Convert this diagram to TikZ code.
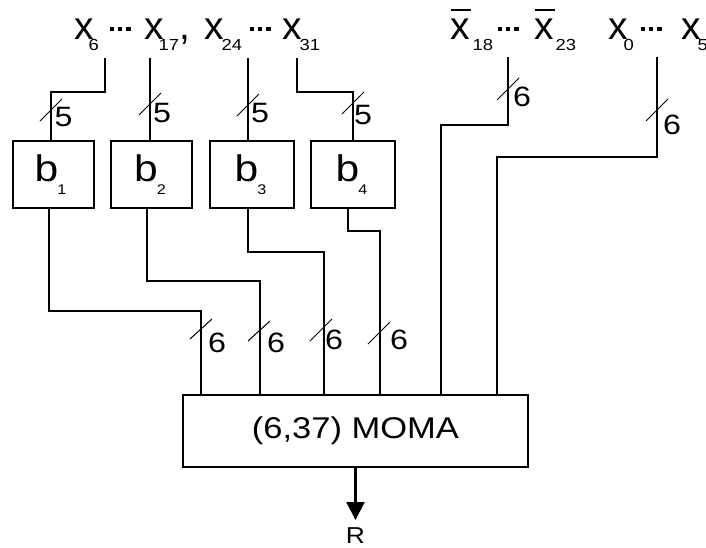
\documentclass[tikz,border=0pt]{standalone}
\usepackage{fontspec}
\setmainfont{Liberation Sans}
\newfontfamily\widefont[FakeStretch=1.15]{Liberation Sans}
\usetikzlibrary{arrows.meta,calc}
\newcommand\pieceat[2]{\rlap{\hspace*{#1pt}#2}}
\newcommand\subsc[1]{\raisebox{-10.5pt}{\widefont\fontsize{16}{16}\selectfont #1}}
\newcommand\mdots{\raisebox{8.25pt}{\rule{4.5pt}{4.5pt}\hspace{3.75pt}\rule{4.5pt}{4.5pt}\hspace{3.75pt}\rule{4.5pt}{4.5pt}}}
\newcommand\xbar{\rlap{\raisebox{28.5pt}{\rule{20.5pt}{2pt}}}x}
\newcommand\bsub[1]{b\kern-1pt\raisebox{-13pt}{\fontsize{14}{14}\selectfont #1}}
\begin{document}
\begin{tikzpicture}[x=1pt,y=-1pt,
  wire/.style={line width=2.2pt},
  slash/.style={line width=1pt},
  boxst/.style={draw, line width=2.2pt, inner sep=0pt, outer sep=0pt,
    minimum height=67pt, font=\widefont\fontsize{37}{40}\selectfont},
  busnum/.style={inner sep=0pt, font=\widefont\fontsize{28}{30}\selectfont},
  toptext/.style={anchor=base west, inner sep=0pt, font=\fontsize{39}{40}\selectfont}]
\fill[white] (0,0) rectangle (706,547);
\path[use as bounding box] (0,0) rectangle (706,547);

% top labels
\node[toptext] (g1) at (74,39.5) {%
  \pieceat{0}{x}\pieceat{14}{\subsc{6}}\pieceat{35}{\mdots}%
  \pieceat{70}{x}\pieceat{84}{\subsc{17}}\pieceat{105}{,}%
  \pieceat{130}{x}\pieceat{147}{\subsc{24}}\pieceat{175}{\mdots}%
  \pieceat{208}{x}\pieceat{225}{\subsc{31}}};
\node[toptext] (g2) at (450,39.5) {%
  \pieceat{0}{\xbar}\pieceat{22}{\subsc{18}}\pieceat{47}{\mdots}%
  \pieceat{84}{\xbar}\pieceat{105}{\subsc{23}}};
\node[toptext] (g3) at (608,39.5) {%
  \pieceat{0}{x}\pieceat{15}{\subsc{0}}\pieceat{32}{\mdots}%
  \pieceat{73}{x}\pieceat{89}{\subsc{5}}};

% boxes
\node[boxst, minimum width=81pt] (b1) at (53.5,174.5) {\bsub{1}\hspace*{6pt}};
\node[boxst, minimum width=81pt] (b2) at (151.5,174.5) {\bsub{2}\hspace*{3pt}};
\node[boxst, minimum width=84pt] (b3) at (252,174.5) {\bsub{3}\hspace*{3pt}};
\node[boxst, minimum width=84pt] (b4) at (353,174.5) {\bsub{4}\hspace*{3pt}};
\node[draw, line width=2.2pt, inner sep=0pt, outer sep=0pt, minimum width=345pt,
  minimum height=72pt, font=\widefont\fontsize{30}{32}\selectfont] (moma) at (355.5,431)
  {\raisebox{3pt}{(6,37) MOMA}};
\node[inner xsep=0pt, inner ysep=7pt, anchor=north, font=\widefont\fontsize{23}{24}\selectfont]
  (R) at (355.5,520) {R};

% input tap points
\coordinate (t1) at (105,58);
\coordinate (t2) at (150,58);
\coordinate (t3) at (248,58);
\coordinate (t4) at (297,58);
\coordinate (t5) at (508,57);
\coordinate (t6) at (657,57);

% top wires
\draw[wire] (t1) -- ++(0,34) -| ($(b1.north)+(-2.5,0)$);
\draw[wire] (t2) -- (t2 |- b2.north);
\draw[wire] (t3) -- (t3 |- b3.north);
\draw[wire] (t4) -- ++(0,34) -| (b4.north);

% box to MOMA wires
\draw[wire] ($(b1.south)+(-4.5,0)$) -- ++(0,103) -| ($(moma.north)+(-154.5,0)$);
\draw[wire] ($(b2.south)+(-4.5,0)$) -- ++(0,73) -| ($(moma.north)+(-95.5,0)$);
\draw[wire] ($(b3.south)+(-4,0)$) -- ++(0,44) -| ($(moma.north)+(-31.5,0)$);
\draw[wire] ($(b4.south)+(-5,0)$) -- ++(0,23) -| ($(moma.north)+(24.5,0)$);
\draw[wire] (t5) -- ++(0,68) -| ($(moma.north)+(85.5,0)$);
\draw[wire] (t6) -- ++(0,100) -| ($(moma.north)+(141.5,0)$);

% output
\draw[wire, -{Triangle[width=18pt,length=18pt]}] (moma.south) -- (R.north);

% bus width marks
\draw[slash] (51,110) ++(-11,11) -- ++(22,-22);
\draw[slash] (150,104) ++(-11,11) -- ++(22,-22);
\draw[slash] (248,105) ++(-11,11) -- ++(22,-22);
\draw[slash] (353,103) ++(-11,11) -- ++(22,-22);
\draw[slash] (508,89) ++(-11,11) -- ++(22,-22);
\draw[slash] (657,110) ++(-11,11) -- ++(22,-22);
\draw[slash] (201,329) ++(-11,10) -- ++(22,-20);
\draw[slash] (259,331) ++(-11,10) -- ++(22,-20);
\draw[slash] (321,330) ++(-11,11) -- ++(22,-22);
\draw[slash] (379,333) ++(-11,11) -- ++(22,-22);

\node[busnum] (n1) at (63.5,117) {5};
\node[busnum] (n2) at (162,113) {5};
\node[busnum] (n3) at (260,113) {5};
\node[busnum] (n4) at (363,115) {5};
\node[busnum] (n5) at (522,97) {6};
\node[busnum] (n6) at (672,125) {6};
\node[busnum] (n7) at (217,343) {6};
\node[busnum] (n8) at (276,343) {6};
\node[busnum] (n9) at (334,340) {6};
\node[busnum] (n10) at (399,340) {6};
\end{tikzpicture}
\end{document}
